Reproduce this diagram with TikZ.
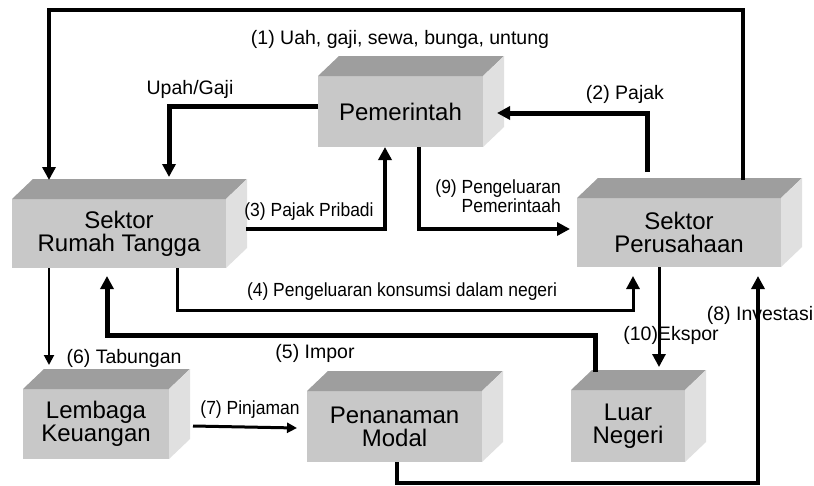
\documentclass[tikz,border=0pt]{standalone}
\usepackage{fontspec}
\setmainfont{Liberation Sans}
\newfontfamily\narrowfont[FakeStretch=0.92]{Liberation Sans}
\usetikzlibrary{arrows.meta,calc}
\definecolor{frontc}{RGB}{200,200,200}
\definecolor{topc}{RGB}{158,158,158}
\definecolor{sidec}{RGB}{224,224,224}
\newcommand\mycuboid[1]{%
  \fill[topc] (#1.north west) -- ++(21,-20) -- ($(#1.north east)+(21,-20)$) -- (#1.north east) -- cycle;
  \fill[sidec] (#1.north east) -- ++(21,-20) -- ($(#1.south east)+(21,-20)$) -- (#1.south east) -- cycle;}
\begin{document}
\begin{tikzpicture}[x=1pt,y=-1pt,
  face/.style={fill=frontc, inner sep=0pt, outer sep=0pt, align=center,
    font=\fontsize{24}{23}\selectfont, text=black},
  lbl/.style={font=\fontsize{19.5}{20}\selectfont, inner sep=0pt},
  nlbl/.style={font=\narrowfont\fontsize{19}{17}\selectfont, inner sep=0pt},
  conn/.style={line width=#1, line join=miter, -{Triangle[length=13pt,width=13pt]}},
  thinconn/.style={line width=#1, line join=miter, -{Triangle[length=10pt,width=10pt]}}
]
\useasboundingbox (0,0) rectangle (814,485);
\fill[white] (0,0) rectangle (814,485);

% boxes (front faces)
\node[face, minimum width=165pt, minimum height=71pt] (P) at (400.5,111.5) {Pemerintah};
\node[face, minimum width=214pt, minimum height=69pt] (RT) at (119,233.5) {Sektor\\Rumah Tangga};
\node[face, minimum width=204pt, minimum height=69pt] (SP) at (679,232.5) {Sektor\\Perusahaan};
\node[face, minimum width=146pt, minimum height=70pt] (LK) at (96,424) {Lembaga\\Keuangan};
\node[face, minimum width=175pt, minimum height=71pt] (PM) at (394.5,426.5) {Penanaman\\Modal};
\node[face, minimum width=114pt, minimum height=72pt] (LN) at (628,426) {Luar\\Negeri};
\mycuboid{P}\mycuboid{RT}\mycuboid{SP}\mycuboid{LK}\mycuboid{PM}\mycuboid{LN}

% labels
\node[lbl] (l1) at (400,39) {(1) Uah, gaji, sewa, bunga, untung};
\node[lbl] (lug) at (190,89) {Upah/Gaji};
\node[lbl] (l2) at (625,94) {(2) Pajak};
\node[nlbl] (l3) at (309,212) {(3) Pajak Pribadi};
\node[nlbl, align=right, anchor=east] (l9) at (561,196) {(9) Pengeluaran\\Pemerintaah};
\node[nlbl] (l4) at (402,292) {(4) Pengeluaran konsumsi dalam negeri};
\node[lbl] (l6) at (124,358) {(6) Tabungan};
\node[lbl] (l5) at (315,353) {(5) Impor};
\node[nlbl] (l7) at (250,410) {(7) Pinjaman};
\node[lbl] (l10) at (671,335) {(10)Ekspor};
\node[lbl] (l8) at (760,315) {(8) Investasi};

% coordinates
\coordinate (sp1) at ($(SP.north west)+(166,-18)$);
\coordinate (rt1) at ($(RT.north west)+(37,-19)$);
\coordinate (topy) at (0,10);
\coordinate (rt2) at ($(RT.north west)+(157,-22)$);
\coordinate (sp2) at ($(SP.north west)+(70,-26)$);
\coordinate (p2) at ($(P.east)+(14,1.5)$);
\coordinate (c4) at ($(SP.south)+(-46,9)$);
\coordinate (ln1) at ($(LN.north west)+(24,-18)$);
\coordinate (rt5) at ($(RT.south)+(-12,8)$);
\coordinate (ln10) at ($(LN.north west)+(88,-23)$);
\coordinate (sp8) at ($(SP.south)+(79,9)$);
\coordinate (lk6) at ($(LK.north west)+(26,-24)$);

% connectors
\draw[conn=3.5pt] (sp1) |- (topy -| rt1) -- (rt1);
\draw[conn=5pt] ([yshift=5.5pt]P.west) -| (rt2);
\draw[conn=5pt] (sp2) |- (p2);
\draw[conn=4pt] ($(RT.east)+(20,-4.5)$) -| ([xshift=-15.5pt]P.south);
\draw[conn=4pt] ([xshift=18.5pt]P.south) |- ($(SP.west)+(-7,-3.5)$);
\draw[conn=3pt] ([xshift=58pt]RT.south) -- ++(0,42) -| (c4);
\draw[conn=5pt] (ln1) -- ++(0,-37) -| (rt5);
\draw[conn=3pt] ([xshift=-20pt]SP.south) -- (ln10);
\draw[conn=4pt] ([xshift=2.5pt]PM.south) -- ++(0,21) -| (sp8);
\draw[thinconn=2pt] ([xshift=-70pt]RT.south) -- (lk6);
\draw[thinconn=3pt] ($(LK.east)+(24,2)$) -- ($(PM.west)+(-10,1.5)$);
\end{tikzpicture}
\end{document}
